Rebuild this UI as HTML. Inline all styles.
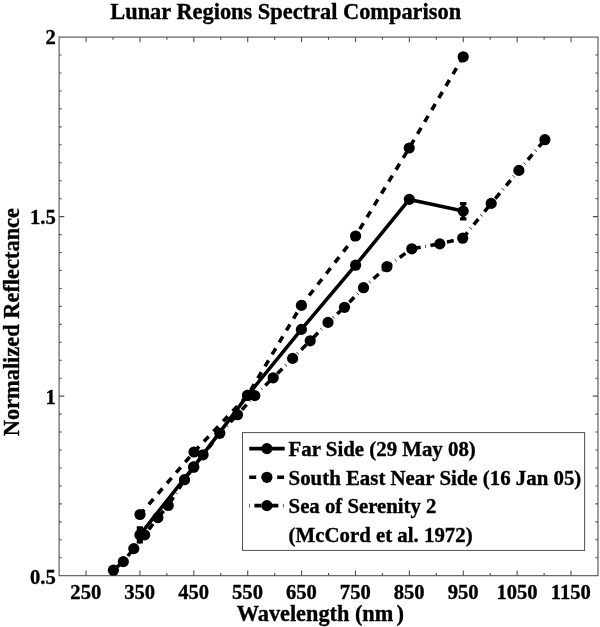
<!DOCTYPE html>
<html lang="en"><head><meta charset="utf-8"><title>Lunar Regions Spectral Comparison</title>
<style>html,body{margin:0;padding:0;background:#fff}svg{display:block}text{font-family:"Liberation Serif","Times New Roman",Times,serif;font-weight:bold;font-variant-ligatures:none;fill:#000;stroke:#000;stroke-width:0.35px;stroke-linejoin:round}</style>
</head><body>
<svg width="600" height="627" viewBox="0 0 600 627">
<rect x="0" y="0" width="600" height="627" fill="#fff"/>
<g stroke="#505050" stroke-width="1.1" fill="none" stroke-linecap="butt">
<rect x="59.1" y="37.1" width="538.90" height="538.60"/>
<path d="M86.05 575.7v-5.2M86.05 37.1v5.2M112.99 575.7v-2.6M112.99 37.1v2.6M139.94 575.7v-5.2M139.94 37.1v5.2M166.88 575.7v-2.6M166.88 37.1v2.6M193.82 575.7v-5.2M193.82 37.1v5.2M220.77 575.7v-2.6M220.77 37.1v2.6M247.71 575.7v-5.2M247.71 37.1v5.2M274.66 575.7v-2.6M274.66 37.1v2.6M301.61 575.7v-5.2M301.61 37.1v5.2M328.55 575.7v-2.6M328.55 37.1v2.6M355.50 575.7v-5.2M355.50 37.1v5.2M382.44 575.7v-2.6M382.44 37.1v2.6M409.39 575.7v-5.2M409.39 37.1v5.2M436.33 575.7v-2.6M436.33 37.1v2.6M463.27 575.7v-5.2M463.27 37.1v5.2M490.22 575.7v-2.6M490.22 37.1v2.6M517.16 575.7v-5.2M517.16 37.1v5.2M544.11 575.7v-2.6M544.11 37.1v2.6M571.05 575.7v-5.2M571.05 37.1v5.2M59.1 557.75h2.6M598.0 557.75h-2.6M59.1 539.79h2.6M598.0 539.79h-2.6M59.1 521.84h2.6M598.0 521.84h-2.6M59.1 503.89h2.6M598.0 503.89h-2.6M59.1 485.93h2.6M598.0 485.93h-2.6M59.1 467.98h2.6M598.0 467.98h-2.6M59.1 450.03h2.6M598.0 450.03h-2.6M59.1 432.07h2.6M598.0 432.07h-2.6M59.1 414.12h2.6M598.0 414.12h-2.6M59.1 396.17h5.2M598.0 396.17h-5.2M59.1 378.21h2.6M598.0 378.21h-2.6M59.1 360.26h2.6M598.0 360.26h-2.6M59.1 342.31h2.6M598.0 342.31h-2.6M59.1 324.35h2.6M598.0 324.35h-2.6M59.1 306.40h2.6M598.0 306.40h-2.6M59.1 288.45h2.6M598.0 288.45h-2.6M59.1 270.49h2.6M598.0 270.49h-2.6M59.1 252.54h2.6M598.0 252.54h-2.6M59.1 234.59h2.6M598.0 234.59h-2.6M59.1 216.63h5.2M598.0 216.63h-5.2M59.1 198.68h2.6M598.0 198.68h-2.6M59.1 180.73h2.6M598.0 180.73h-2.6M59.1 162.77h2.6M598.0 162.77h-2.6M59.1 144.82h2.6M598.0 144.82h-2.6M59.1 126.87h2.6M598.0 126.87h-2.6M59.1 108.91h2.6M598.0 108.91h-2.6M59.1 90.96h2.6M598.0 90.96h-2.6M59.1 73.01h2.6M598.0 73.01h-2.6M59.1 55.05h2.6M598.0 55.05h-2.6"/>
</g>
<text x="110.3" y="18.7" font-size="22.5" textLength="350.8" lengthAdjust="spacingAndGlyphs">Lunar Regions Spectral Comparison</text>
<text x="85.8" y="598.6" font-size="20.6" text-anchor="middle">250</text>
<text x="139.7" y="598.6" font-size="20.6" text-anchor="middle">350</text>
<text x="193.6" y="598.6" font-size="20.6" text-anchor="middle">450</text>
<text x="247.5" y="598.6" font-size="20.6" text-anchor="middle">550</text>
<text x="301.4" y="598.6" font-size="20.6" text-anchor="middle">650</text>
<text x="355.3" y="598.6" font-size="20.6" text-anchor="middle">750</text>
<text x="409.2" y="598.6" font-size="20.6" text-anchor="middle">850</text>
<text x="463.1" y="598.6" font-size="20.6" text-anchor="middle">950</text>
<text x="517.0" y="598.6" font-size="20.6" text-anchor="middle">1050</text>
<text x="570.9" y="598.6" font-size="20.6" text-anchor="middle">1150</text>
<text x="55.8" y="44.1" font-size="20.6" text-anchor="end">2</text>
<text x="55.8" y="224.1" font-size="20.6" text-anchor="end">1.5</text>
<text x="55.8" y="403.7" font-size="20.6" text-anchor="end">1</text>
<text x="55.8" y="584.0" font-size="20.6" text-anchor="end">0.5</text>
<text x="236.7" y="621.2" font-size="22.5" textLength="156.6" lengthAdjust="spacingAndGlyphs">Wavelength (nm</text>
<text x="396.6" y="621.2" font-size="22.5">)</text>
<text transform="translate(19 436.3) rotate(-90)" font-size="22.5" textLength="228.3" lengthAdjust="spacingAndGlyphs">Normalized Reflectance</text>
<g fill="none" stroke="#000" stroke-width="3.56" stroke-linejoin="round">
<polyline points="113.4,570.2 123.3,561.6 133.8,548.6 144.7,534.9 157.9,517.6 168.2,505.5 184.5,479.7 193.7,467.2 203.1,454.8 219.8,433.3 237.5,414.7 254.8,395.6 273.2,377.8 292.6,358.4 310.2,340.8 328.0,322.4 344.5,307.3 363.5,287.7 386.9,266.7 411.8,248.8 439.8,243.9 462.7,238.2 491.2,203.4 518.9,170.4 544.9,139.7" stroke-dasharray="0.58 4.66 6.99 4.66" stroke-dashoffset="1.82"/>
<polyline points="140.0,514.5 194.0,452.0 247.6,395.4 301.4,305.4 355.6,236.0 409.2,148.0 463.2,56.8" stroke-dasharray="6.96 6.96" stroke-dashoffset="0.43"/>
<polyline points="139.9,534.9 193.7,466.9 247.6,395.4 301.4,329.4 355.6,265.2 409.3,199.4 463.2,211.1"/>
<path d="M463.2 203.55V218.85M459.95 203.55h6.5M459.95 218.85h6.5" stroke-width="3.3"/>
<rect x="136.75" y="526.25" width="6.15" height="17.25" fill="#000" stroke="none"/>
</g>
<g fill="#000">
<circle cx="113.4" cy="570.2" r="5.6"/>
<circle cx="123.3" cy="561.6" r="5.6"/>
<circle cx="133.8" cy="548.6" r="5.6"/>
<circle cx="144.7" cy="534.9" r="5.6"/>
<circle cx="157.9" cy="517.6" r="5.6"/>
<circle cx="168.2" cy="505.5" r="5.6"/>
<circle cx="184.5" cy="479.7" r="5.6"/>
<circle cx="193.7" cy="467.2" r="5.6"/>
<circle cx="203.1" cy="454.8" r="5.6"/>
<circle cx="219.8" cy="433.3" r="5.6"/>
<circle cx="237.5" cy="414.7" r="5.6"/>
<circle cx="254.8" cy="395.6" r="5.6"/>
<circle cx="273.2" cy="377.8" r="5.6"/>
<circle cx="292.6" cy="358.4" r="5.6"/>
<circle cx="310.2" cy="340.8" r="5.6"/>
<circle cx="328.0" cy="322.4" r="5.6"/>
<circle cx="344.5" cy="307.3" r="5.6"/>
<circle cx="363.5" cy="287.7" r="5.6"/>
<circle cx="386.9" cy="266.7" r="5.6"/>
<circle cx="411.8" cy="248.8" r="5.6"/>
<circle cx="439.8" cy="243.9" r="5.6"/>
<circle cx="462.7" cy="238.2" r="5.6"/>
<circle cx="491.2" cy="203.4" r="5.6"/>
<circle cx="518.9" cy="170.4" r="5.6"/>
<circle cx="544.9" cy="139.7" r="5.6"/>
<circle cx="140.0" cy="514.5" r="5.6"/>
<circle cx="194.0" cy="452.0" r="5.6"/>
<circle cx="247.6" cy="395.4" r="5.6"/>
<circle cx="301.4" cy="305.4" r="5.6"/>
<circle cx="355.6" cy="236.0" r="5.6"/>
<circle cx="409.2" cy="148.0" r="5.6"/>
<circle cx="463.2" cy="56.8" r="5.6"/>
<circle cx="139.9" cy="534.9" r="5.6"/>
<circle cx="193.7" cy="466.9" r="5.6"/>
<circle cx="247.6" cy="395.4" r="5.6"/>
<circle cx="301.4" cy="329.4" r="5.6"/>
<circle cx="355.6" cy="265.2" r="5.6"/>
<circle cx="409.3" cy="199.4" r="5.6"/>
<circle cx="463.2" cy="211.1" r="5.6"/>
</g>
<rect x="242.5" y="432.6" width="342.1" height="117.8" fill="#fff" stroke="#505050" stroke-width="1"/>
<g fill="none" stroke="#000" stroke-width="3.56">
<path d="M249.2 448.6H284.7"/>
<path d="M249.2 477.3H284.7" stroke-dasharray="6.99 6.99"/>
<path d="M249.2 505.6H284.7" stroke-dasharray="0.58 4.66 6.99 4.66"/>
</g>
<circle cx="266.9" cy="448.6" r="5.6" fill="#000"/>
<circle cx="266.9" cy="477.3" r="5.6" fill="#000"/>
<circle cx="266.9" cy="505.6" r="5.6" fill="#000"/>
<text x="288.6" y="456.3" font-size="20.6" textLength="187.2" lengthAdjust="spacingAndGlyphs">Far Side (29 May 08)</text>
<text x="288.6" y="484.8" font-size="20.6" textLength="292.7" lengthAdjust="spacingAndGlyphs">South East Near Side (16 Jan 05)</text>
<text x="288.6" y="513.2" font-size="20.6" textLength="147.9" lengthAdjust="spacingAndGlyphs">Sea of Serenity 2</text>
<text x="288.6" y="541.6" font-size="20.6" textLength="184.0" lengthAdjust="spacingAndGlyphs">(McCord et al. 1972)</text>
</svg>
</body></html>
